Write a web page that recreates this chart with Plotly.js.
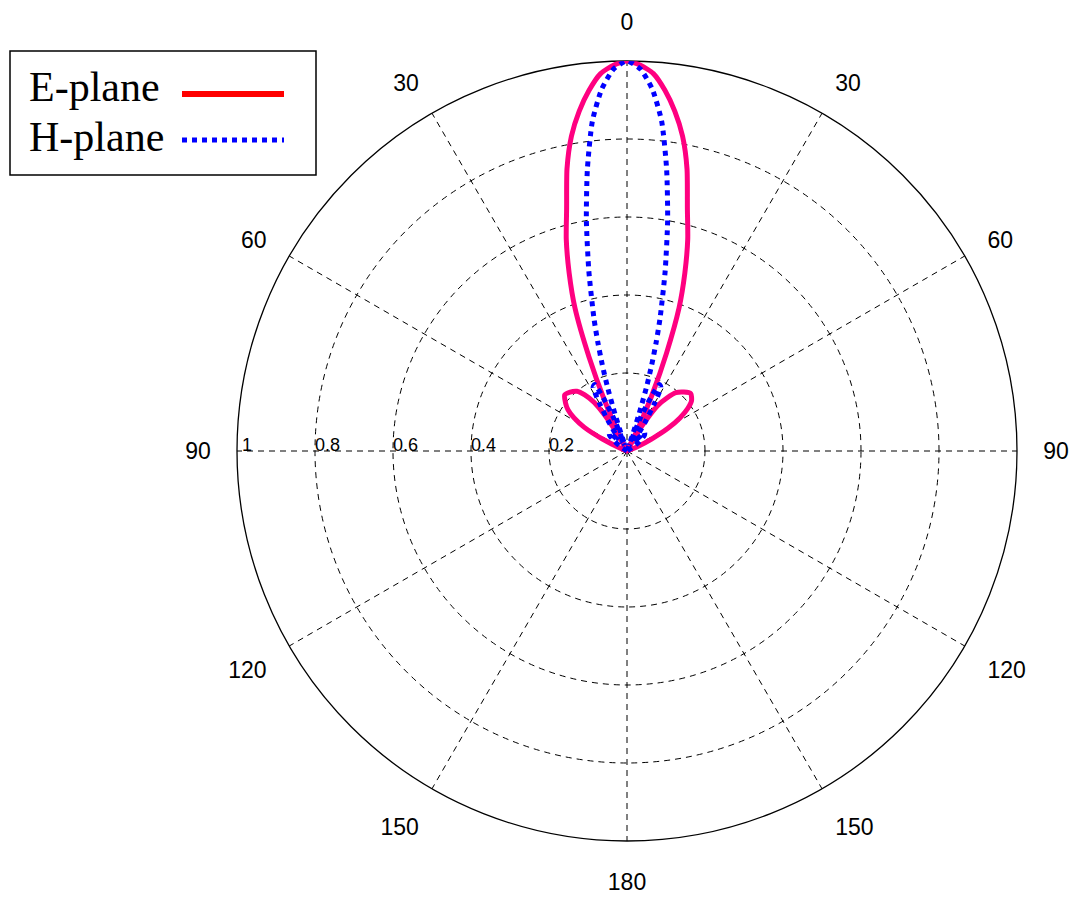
<!DOCTYPE html>
<html><head><meta charset="utf-8">
<script src="https://cdn.plot.ly/plotly-3.0.1.min.js"></script>
<style>html,body{margin:0;padding:0;background:#fff;} #chart{width:1074px;height:897px;}</style>
</head><body><div id="chart"></div>
<script>
// ---- data (degrees from boresight, normalized amplitude) ----
const thetaE = [-90,-80,-70,-67,-64,-61,-58,-55,-52,-48,-44,-40,-37,-34,-32,-30,-27,-26,-24,-22,-20,-18,-16,-14,-12,-10,-8,-6,-4,-2,0,
                 2,4,6,8,10,12,14,16,18,20,22,24,26,27,30,32,34,37,40,44,48,52,55,58,61,64,67,70,80,90];
const rE = [0,0,0,0.02,0.07,0.125,0.16,0.185,0.2,0.215,0.21,0.2,0.18,0.15,0.11,0.06,0.01,0.05,0.14,0.26,0.39,0.48,0.565,0.64,0.74,0.82,0.88,0.93,0.97,0.99,1.0,
            0.99,0.97,0.93,0.88,0.82,0.74,0.64,0.565,0.48,0.39,0.27,0.16,0.07,0.01,0.06,0.10,0.14,0.17,0.195,0.21,0.22,0.21,0.19,0.16,0.12,0.07,0.03,0,0,0];
const thetaH = [-90,-60,-56,-52,-48,-44,-40,-36,-34,-32,-30,-28,-26,-24,-22,-20,-19,-18,-17,-16,-15,-14,-12,-10,-8,-6,-4,-2,0,
                 2,4,6,8,10,12,14,15,16,17,18,19,20,22,24,26,28,30,32,34,36,40,44,48,52,56,60,90];
const rH = [0,0,0.02,0.04,0.06,0.065,0.04,0.03,0.05,0.09,0.14,0.185,0.19,0.15,0.09,0.01,0.04,0.10,0.17,0.23,0.29,0.35,0.47,0.60,0.73,0.85,0.93,0.98,1.0,
            0.98,0.93,0.85,0.73,0.60,0.47,0.35,0.29,0.23,0.17,0.10,0.04,0.01,0.09,0.15,0.19,0.185,0.14,0.09,0.05,0.03,0.04,0.065,0.06,0.04,0.02,0,0];
const seriesNames = ['E-plane', 'H-plane'];
const angTickVals = [0,30,60,90,120,150,180,210,240,270,300,330];
const angTickText = ['0','30','60','90','120','150','180','150','120','90','60','30'];
const radTickVals = [0.2,0.4,0.6,0.8,1];
const radTickText = ['0.2','0.4','0.6','0.8','1'];

// ---- layout helpers (pixel -> paper) ----
const W = 1074, H = 897;
const px = x => x / W;
const py = y => 1 - y / H;
const cx = 627, cy = 451, R = 390;
// pad radial labels so they sit just outside (to the right of) each ring
const NB = '\u00a0';
const radLabels = radTickText.map(t => NB.repeat(t.length > 1 ? 5 : 4) + t);

const traces = [
  {type:'scatterpolar', mode:'lines', name:seriesNames[0], theta:thetaE, r:rE,
   line:{color:'#FF0080', width:5, shape:'spline', smoothing:0.6}, showlegend:false},
  {type:'scatterpolar', mode:'lines', name:seriesNames[1], theta:thetaH, r:rH,
   line:{color:'#0000FF', width:5, dash:'dot', shape:'spline', smoothing:0.6}, showlegend:false}
];

const layout = {
  width: W, height: H,
  margin:{l:0,r:0,t:0,b:0},
  paper_bgcolor:'#fff',
  showlegend:false,
  font:{family:'Arial, Liberation Sans, sans-serif', color:'#000'},
  polar:{
    domain:{x:[px(cx-R), px(cx+R)], y:[py(cy+R), py(cy-R)]},
    bgcolor:'#fff',
    angularaxis:{
      rotation:90, direction:'clockwise',
      tickmode:'array', tickvals:angTickVals, ticktext:angTickText,
      tickfont:{size:23, family:'Arial, Liberation Sans, sans-serif'},
      ticks:'outside', ticklen:21, tickcolor:'rgba(0,0,0,0)',
      showline:true, linecolor:'#000', linewidth:1.3,
      showgrid:true, gridcolor:'#000', gridwidth:1, griddash:'6px,5px',
      layer:'below traces'
    },
    radialaxis:{
      range:[0,1], angle:180, tickangle:180, side:'clockwise',
      tickmode:'array', tickvals:radTickVals, ticktext:radLabels,
      tickfont:{size:18, family:'Arial, Liberation Sans, sans-serif'},
      ticks:'', showline:false,
      showgrid:true, gridcolor:'#000', gridwidth:1, griddash:'6px,5px',
      layer:'below traces'
    }
  },
  shapes:[
    {type:'rect', xref:'paper', yref:'paper', x0:px(10), x1:px(316), y0:py(51), y1:py(175),
     line:{color:'#000', width:1.5}, fillcolor:'#fff'},
    {type:'line', xref:'paper', yref:'paper', x0:px(182), x1:px(284), y0:py(94), y1:py(94),
     line:{color:'#FF0000', width:6}},
    {type:'line', xref:'paper', yref:'paper', x0:px(182), x1:px(284), y0:py(140), y1:py(140),
     line:{color:'#0000FF', width:5, dash:'dot'}}
  ],
  annotations:[
    {xref:'paper', yref:'paper', x:px(27), y:py(87), xanchor:'left', yanchor:'middle', showarrow:false,
     text:seriesNames[0], font:{family:'Liberation Serif, Times New Roman, serif', size:42, color:'#000'}},
    {xref:'paper', yref:'paper', x:px(27), y:py(137), xanchor:'left', yanchor:'middle', showarrow:false,
     text:seriesNames[1], font:{family:'Liberation Serif, Times New Roman, serif', size:42, color:'#000'}}
  ]
};

Plotly.newPlot('chart', traces, layout, {displayModeBar:false, staticPlot:true});
</script>
</body></html>
